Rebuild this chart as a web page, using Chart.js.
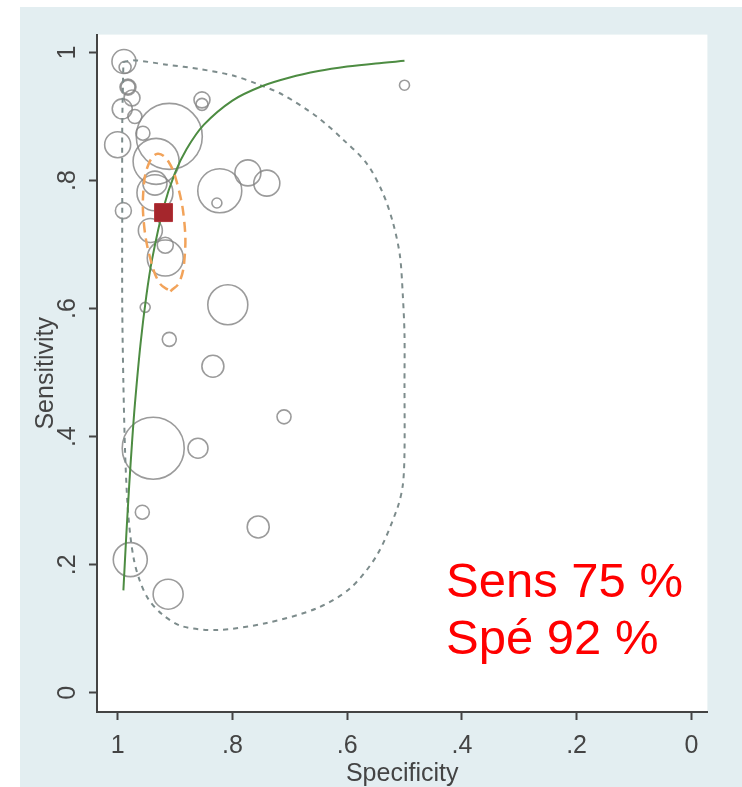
<!DOCTYPE html>
<html>
<head>
<meta charset="utf-8">
<title>SROC</title>
<script src="https://cdn.jsdelivr.net/npm/chart.js@4/dist/chart.umd.min.js"></script>
<style>
  html, body { margin: 0; padding: 0; background: #fff; }
  #wrap { position: relative; width: 742px; height: 787px; }
  #note {
    position: absolute; left: 446px; top: 552px;
    color: #f00; font-family: "Liberation Sans", Arial, sans-serif;
    font-size: 49px; line-height: 57px; white-space: nowrap;
  }
</style>
</head>
<body>
<div id="wrap">
  <canvas id="sroc" width="742" height="787"></canvas>
  <div id="note">Sens 75 %<br>Spé 92 %</div>
</div>
<script>
// individual studies (specificity, sensitivity, weight -> bubble radius)
const studySpec = [0.989, 0.987, 0.982, 0.982, 0.975, 0.992, 0.970, 0.956, 1.000, 0.910, 0.933,
  0.853, 0.853, 0.935, 0.935, 0.943, 0.917, 0.917, 0.990, 0.822, 0.827, 0.773, 0.740,
  0.808, 0.952, 0.910, 0.834, 0.710, 0.938, 0.860, 0.957, 0.755, 0.978, 0.912, 0.500];
const studySens = [0.986, 0.977, 0.946, 0.946, 0.929, 0.912, 0.900, 0.874, 0.856, 0.869, 0.830,
  0.926, 0.919, 0.781, 0.796, 0.722, 0.699, 0.679, 0.753, 0.784, 0.765, 0.812, 0.796,
  0.606, 0.602, 0.552, 0.510, 0.431, 0.382, 0.382, 0.282, 0.259, 0.208, 0.154, 0.949];
const studyWeight = [12, 6, 7, 8, 8, 10, 7, 7, 13, 33, 23,
  8, 6, 18, 12, 12, 8, 18, 8, 22, 5, 13, 13,
  20, 5, 7, 11, 7, 31, 10, 7, 11, 17, 15, 5];

// summary point
const summarySpec = 0.92;
const summarySens = 0.75;

// SROC curve
const srocSpec = [0.99, 0.985, 0.98, 0.975, 0.97, 0.96, 0.95, 0.94, 0.92, 0.90, 0.88, 0.85, 0.80, 0.75, 0.70, 0.65, 0.60, 0.55, 0.50];
const srocSens = [0.16, 0.245, 0.322, 0.390, 0.450, 0.546, 0.620, 0.677, 0.758, 0.812, 0.849, 0.887, 0.925, 0.947, 0.961, 0.971, 0.978, 0.983, 0.987];

// 95% prediction region
const predSpec = [0.990, 0.973, 0.914, 0.856, 0.799, 0.757, 0.712, 0.653, 0.607, 0.566, 0.538, 0.520, 0.508, 0.503, 0.500, 0.500, 0.500,
  0.503, 0.513, 0.548, 0.595, 0.653, 0.740, 0.827, 0.888, 0.923, 0.947, 0.961, 0.971, 0.978, 0.983, 0.987, 0.990, 0.992, 0.992, 0.992, 0.990];
const predSens = [0.985, 0.988, 0.981, 0.974, 0.964, 0.951, 0.934, 0.900, 0.864, 0.827, 0.781, 0.734, 0.683, 0.622, 0.560, 0.483, 0.375,
  0.324, 0.287, 0.215, 0.163, 0.132, 0.109, 0.098, 0.104, 0.123, 0.147, 0.174, 0.205, 0.246, 0.297, 0.375, 0.483, 0.606, 0.761, 0.884, 0.985];

// 95% confidence region
const confSpec = [0.908, 0.892, 0.883, 0.884, 0.895, 0.911, 0.930, 0.946, 0.955, 0.954, 0.943, 0.927, 0.908];
const confSens = [0.627, 0.642, 0.683, 0.737, 0.791, 0.829, 0.842, 0.826, 0.786, 0.731, 0.678, 0.640, 0.627];

// axis ticks
const tickValues = [0, 0.2, 0.4, 0.6, 0.8, 1];
const tickLabels = ["0", ".2", ".4", ".6", ".8", "1"];

const axisColor = "#444";

const panelBackground = {
  id: "panelBackground",
  beforeDraw(chart) {
    const { ctx, chartArea } = chart;
    ctx.save();
    ctx.fillStyle = "#fff";
    ctx.fillRect(0, 0, chart.width, chart.height);
    ctx.fillStyle = "rgb(227,238,241)";
    ctx.fillRect(20, 7, chart.width - 20, chart.height - 7);
    ctx.fillStyle = "#fff";
    ctx.fillRect(chartArea.left, chartArea.top, chartArea.right - chartArea.left, chartArea.bottom - chartArea.top);
    ctx.restore();
  },
};

function pairs(xs, ys) {
  return xs.map((x, i) => ({ x: x, y: ys[i] }));
}

function axisTicks(axis) {
  axis.ticks = tickValues.map((v) => ({ value: v }));
}

new Chart(document.getElementById("sroc"), {
  type: "scatter",
  data: {
    datasets: [
      {
        type: "scatter",
        label: "Summary",
        data: [{ x: summarySpec, y: summarySens }],
        pointStyle: "rect",
        pointRadius: 12.7,
        backgroundColor: "#a5262c",
        borderColor: "#b3343a",
        borderWidth: 1,
        order: 0,
      },
      {
        type: "scatter",
        label: "95% Confidence Contour",
        data: pairs(confSpec, confSens),
        showLine: true,
        pointRadius: 0,
        tension: 0.4,
        borderColor: "#f2a35a",
        borderWidth: 2.5,
        borderDash: [10, 6],
        order: 1,
      },
      {
        type: "scatter",
        label: "SROC Curve",
        data: pairs(srocSpec, srocSens),
        showLine: true,
        pointRadius: 0,
        tension: 0.3,
        borderColor: "#4d8c42",
        borderWidth: 2,
        order: 2,
      },
      {
        type: "scatter",
        label: "95% Prediction Contour",
        data: pairs(predSpec, predSens),
        showLine: true,
        pointRadius: 0,
        tension: 0.3,
        borderColor: "#7d8c8c",
        borderWidth: 2,
        borderDash: [5, 5],
        order: 3,
      },
      {
        type: "bubble",
        label: "Observed Data",
        data: studySpec.map((x, i) => ({ x: x, y: studySens[i], r: studyWeight[i] })),
        backgroundColor: "rgba(0,0,0,0)",
        borderColor: "rgba(130,130,130,0.8)",
        borderWidth: 1.6,
        order: 4,
      },
    ],
  },
  options: {
    responsive: false,
    animation: false,
    events: [],
    layout: { padding: { left: 20, top: 27, right: 34, bottom: 0 } },
    plugins: {
      legend: { display: false },
      tooltip: { enabled: false },
    },
    scales: {
      x: {
        type: "linear",
        reverse: true,
        min: -0.028,
        max: 1.036,
        afterBuildTicks: axisTicks,
        afterFit(axis) { axis.height = 75; },
        grid: { drawOnChartArea: false, tickLength: 8, tickColor: axisColor, tickWidth: 2 },
        border: { display: true, color: axisColor, width: 2 },
        ticks: {
          callback: (value, index) => tickLabels[index],
          color: axisColor,
          font: { family: "'Liberation Sans', Arial, sans-serif", size: 25 },
          padding: 11,
          maxRotation: 0,
          autoSkip: false,
        },
        title: {
          display: true,
          text: "Specificity",
          color: axisColor,
          font: { family: "'Liberation Sans', Arial, sans-serif", size: 25 },
          padding: { top: 0, bottom: -2 },
        },
      },
      y: {
        type: "linear",
        min: -0.030,
        max: 1.028,
        afterBuildTicks: axisTicks,
        afterFit(axis) { axis.width = 77; },
        grid: { drawOnChartArea: false, tickLength: 8, tickColor: axisColor, tickWidth: 2 },
        border: { display: true, color: axisColor, width: 2 },
        ticks: {
          callback: (value, index) => tickLabels[index],
          color: axisColor,
          font: { family: "'Liberation Sans', Arial, sans-serif", size: 25 },
          padding: 10,
          minRotation: 90,
          maxRotation: 90,
          crossAlign: "center",
          autoSkip: false,
        },
        title: {
          display: true,
          text: "Sensitivity",
          color: axisColor,
          font: { family: "'Liberation Sans', Arial, sans-serif", size: 25 },
          padding: { top: 11, bottom: 0 },
        },
      },
    },
  },
  plugins: [panelBackground],
});
</script>
</body>
</html>
